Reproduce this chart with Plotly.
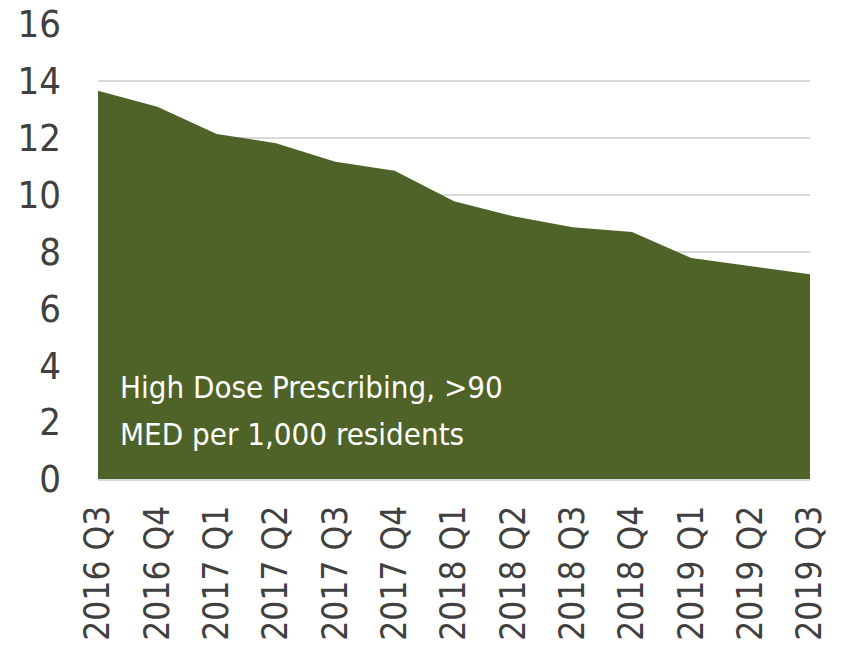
import plotly.graph_objects as go

quarters = ["2016 Q3", "2016 Q4", "2017 Q1", "2017 Q2", "2017 Q3", "2017 Q4",
            "2018 Q1", "2018 Q2", "2018 Q3", "2018 Q4", "2019 Q1", "2019 Q2", "2019 Q3"]
high_dose = [13.65, 13.09, 12.13, 11.81, 11.16, 10.84, 9.77, 9.24, 8.85, 8.69, 7.77, 7.49, 7.20]
y_ticks = [0, 2, 4, 6, 8, 10, 12, 14, 16]
label_lines = ["High Dose Prescribing, >90", "MED per 1,000 residents"]

FONT = "DejaVu Sans Condensed, Liberation Sans Narrow, Roboto, sans-serif"
GREEN = "#4F6228"

fig = go.Figure()
fig.add_trace(go.Scatter(
    x=list(range(len(quarters))), y=high_dose,
    mode="lines", fill="tozeroy", fillcolor=GREEN,
    line=dict(width=0, color=GREEN), hoverinfo="skip", showlegend=False,
))

fig.update_layout(
    width=843, height=645,
    margin=dict(l=98, r=33, t=24, b=166),
    paper_bgcolor="white", plot_bgcolor="white",
    font=dict(family=FONT, size=38, color="#404040"),
    xaxis=dict(
        tickmode="array", tickvals=list(range(len(quarters))), ticktext=quarters,
        tickangle=-90, range=[0, len(quarters) - 1], showgrid=False,
        showline=True, linecolor="#d9d9d9", linewidth=1.5,
        tickfont=dict(size=35),
        ticks="", ticklabelstandoff=11, zeroline=False, automargin=False,
    ),
    yaxis=dict(
        range=[0, 16], tickvals=y_ticks, showgrid=True,
        gridcolor="#d9d9d9", gridwidth=1.5, zeroline=False,
        ticks="", ticklabelstandoff=36, showline=False, automargin=False,
    ),
    annotations=[
        dict(xref="paper", yref="y", x=0.028, y=yv,
             xanchor="left", yanchor="middle", align="left",
             text=t, showarrow=False,
             font=dict(family=FONT, size=31, color="white"))
        for t, yv in zip(label_lines, [3.25, 1.58])
    ],
)

fig.write_html("out.html")
